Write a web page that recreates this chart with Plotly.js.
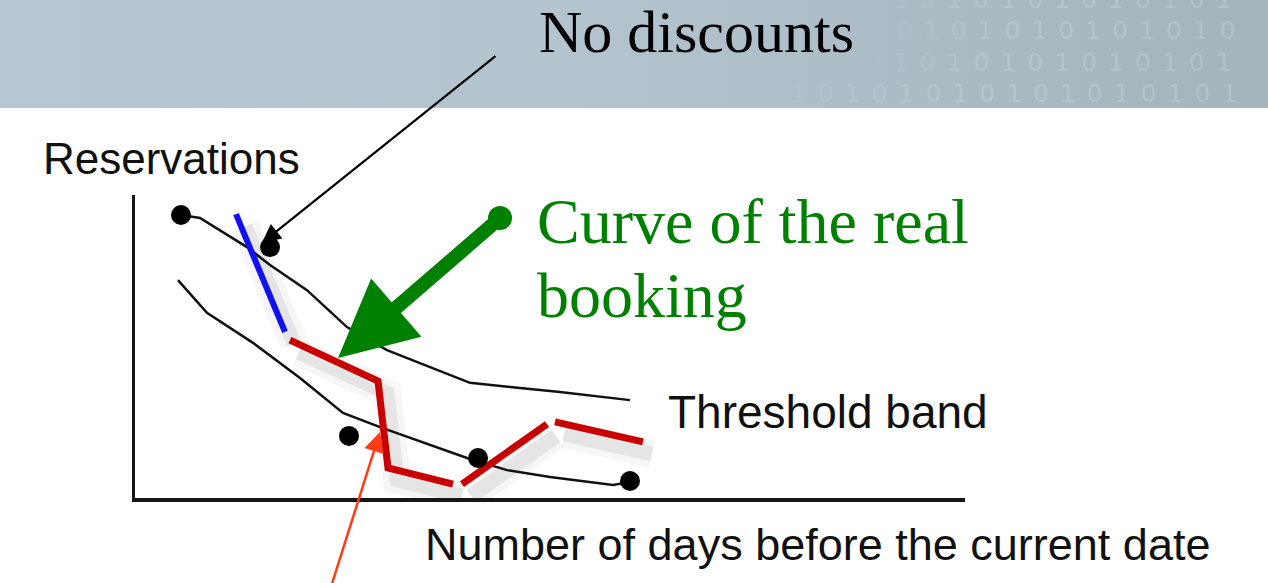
<!DOCTYPE html>
<html>
<head>
<meta charset="utf-8">
<script src="https://cdn.plot.ly/plotly-3.0.1.min.js"></script>
<style>
  html, body { margin: 0; padding: 0; background: #ffffff; }
  #wrap { position: relative; width: 1268px; height: 583px; overflow: hidden; }
  #banner {
    position: absolute; left: 0; top: 0; width: 1268px; height: 108px; overflow: hidden;
    background: linear-gradient(to right, #b6c6d2 0%, #b4c4cf 45%, #abbbc4 75%, #a4b4bb 100%);
  }
  .bits {
    position: absolute; white-space: nowrap;
    font-family: "DejaVu Sans", "Liberation Sans", sans-serif; font-size: 25px; line-height: 26px;
    letter-spacing: 11px; color: rgba(255,255,255,0.17);
    -webkit-mask-image: linear-gradient(to right, rgba(0,0,0,0) 0%, rgba(0,0,0,0.7) 25%, #000 45%);
    mask-image: linear-gradient(to right, rgba(0,0,0,0) 0%, rgba(0,0,0,0.7) 25%, #000 45%);
  }
  #chart { position: absolute; left: 0; top: 0; width: 1268px; height: 583px; }
</style>
</head>
<body>
<div id="wrap">
  <div id="banner">
    <div class="bits" style="top:-13px; left:866px">01010101010101</div>
    <div class="bits" style="top:18px; left:870px">10101010101010</div>
    <div class="bits" style="top:50px; left:866px">01010101010101</div>
    <div class="bits" style="top:81px; left:764px">010101010101010101</div>
  </div>
  <div id="chart"></div>
</div>
<script>
// ---- data (x = days scale 0..100, y = reservations scale 0..100) ----
const upperDays = [5.54, 7.83, 13.49, 16.27, 20.72, 25.54, 30.36, 34.34, 40.36, 46.39, 51.20, 59.64];
const upperRes  = [93.4, 92.4, 82.8, 76.9, 68.6, 56.4, 48.8, 44.6, 38.0, 36.3, 35.0, 32.3];

const lowerDays = [5.18, 8.67, 14.22, 19.88, 25.06, 29.52, 40.00, 44.82, 50.00, 57.59, 59.64];
const lowerRes  = [71.9, 61.1, 51.2, 39.6, 28.1, 23.4, 13.2, 9.2, 6.9, 4.3, 5.3];

const dotDays = [5.54, 16.27, 25.78, 41.33, 59.64];
const dotRes  = [93.4, 82.8, 20.5, 13.2, 5.6];

const noDiscDays = [12.17, 18.07];
const noDiscRes  = [93.7, 54.8];

const realDays1 = [18.67, 29.28, 30.48, 38.31];
const realRes1  = [52.1, 38.6, 9.9, 4.6];
const realDays2 = [39.40, 49.64];
const realRes2  = [4.6, 24.4];
const realDays3 = [50.60, 61.20];
const realRes3  = [25.1, 18.5];

const labels = {
  title: "No discounts",
  curve1: "Curve of the real",
  curve2: "booking",
  yLabel: "Reservations",
  band: "Threshold band",
  xLabel: "Number of days before the current date"
};

// ---- traces ----
const shadowDx = 1.08, shadowDy = -3.96;
function shadow(xs, ys, w, c) {
  return { x: xs.map(v => v + shadowDx), y: ys.map(v => v + shadowDy), mode: 'lines',
           line: { color: c, width: w, shape: 'linear' }, hoverinfo: 'skip' };
}
const real = [[realDays1, realRes1], [realDays2, realRes2], [realDays3, realRes3], [noDiscDays, noDiscRes]];
const traces = [];
real.forEach(([xs, ys]) => traces.push(shadow(xs, ys, 28, 'rgba(0,0,0,0.035)')));
real.forEach(([xs, ys]) => traces.push(shadow(xs, ys, 15, 'rgba(0,0,0,0.065)')));

traces.push({ x: upperDays, y: upperRes, mode: 'lines', line: { color: '#111', width: 2.5 } });
traces.push({ x: lowerDays, y: lowerRes, mode: 'lines', line: { color: '#111', width: 2.5 } });
traces.push({ x: noDiscDays, y: noDiscRes, mode: 'lines', line: { color: '#1010f0', width: 6 } });
traces.push({ x: realDays1, y: realRes1, mode: 'lines', line: { color: '#c80000', width: 7 } });
traces.push({ x: realDays2, y: realRes2, mode: 'lines', line: { color: '#c80000', width: 7 } });
traces.push({ x: realDays3, y: realRes3, mode: 'lines', line: { color: '#c80000', width: 7 } });
traces.push({ x: dotDays, y: dotRes, mode: 'markers', marker: { color: '#000', size: 20 } });
// green arrow tail dot
traces.push({ x: [43.98], y: [92.4], mode: 'markers', marker: { color: '#008000', size: 24 } });

const serif = "Liberation Serif, Times New Roman, serif";
const sans = "Liberation Sans, Arial, sans-serif";

const annotations = [
  { xref: 'paper', yref: 'paper', x: 0.6771, y: 1.538, text: labels.title, showarrow: false,
    xanchor: 'center', yanchor: 'middle', height: 56, valign: 'middle',
    font: { family: serif, size: 60, color: '#000' } },
  { x: 48.19, y: 91.4, text: labels.curve1, showarrow: false, xanchor: 'left', yanchor: 'middle',
    font: { family: serif, size: 64, color: '#008000' } },
  { x: 48.19, y: 66.7, text: labels.curve2, showarrow: false, xanchor: 'left', yanchor: 'middle',
    font: { family: serif, size: 64, color: '#008000' } },
  { xref: 'paper', yref: 'paper', x: 0.0434, y: 1.119, text: labels.yLabel, showarrow: false,
    xanchor: 'center', yanchor: 'middle', font: { family: sans, size: 44, color: '#111' } },
  { x: 83.49, y: 28.4, text: labels.band, showarrow: false, xanchor: 'center', yanchor: 'middle',
    font: { family: sans, size: 46, color: '#111' } },
  { xref: 'paper', yref: 'paper', x: 0.8217, y: -0.155, text: labels.xLabel, showarrow: false,
    xanchor: 'center', yanchor: 'middle', font: { family: sans, size: 45, color: '#111' } },
  // black "No discounts" pointer
  { x: 15.30, y: 84.2, ax: 43.61, ay: 146.2, axref: 'x', ayref: 'y', text: '', showarrow: true,
    arrowhead: 2, arrowsize: 1.7, arrowwidth: 2.2, arrowcolor: '#000', standoff: 0 },
  // green arrow to the real booking curve
  { x: 24.46, y: 46.2, ax: 43.98, ay: 92.4, axref: 'x', ayref: 'y', text: '', showarrow: true,
    arrowhead: 2, arrowsize: 1.1, arrowwidth: 14, arrowcolor: '#008000', standoff: 0 },
  // orange-red pointer from below
  { x: 29.52, y: 21.8, ax: 23.49, ay: -30.4, axref: 'x', ayref: 'y', text: '', showarrow: true,
    arrowhead: 2, arrowsize: 1.6, arrowwidth: 2.5, arrowcolor: '#ff3c14', standoff: 0 }
];

const layout = {
  width: 1268, height: 583,
  margin: { l: 135, r: 303, t: 195, b: 85, pad: 0 },
  paper_bgcolor: 'rgba(0,0,0,0)', plot_bgcolor: 'rgba(0,0,0,0)',
  showlegend: false,
  xaxis: { range: [0, 100], showline: true, linecolor: '#151515', linewidth: 4, showgrid: false,
           zeroline: false, showticklabels: false, ticks: '', fixedrange: true },
  yaxis: { range: [0, 100], showline: true, linecolor: '#151515', linewidth: 3, showgrid: false,
           zeroline: false, showticklabels: false, ticks: '', fixedrange: true },
  annotations: annotations
};

Plotly.newPlot('chart', traces, layout, { displayModeBar: false, staticPlot: true });
</script>
</body>
</html>
